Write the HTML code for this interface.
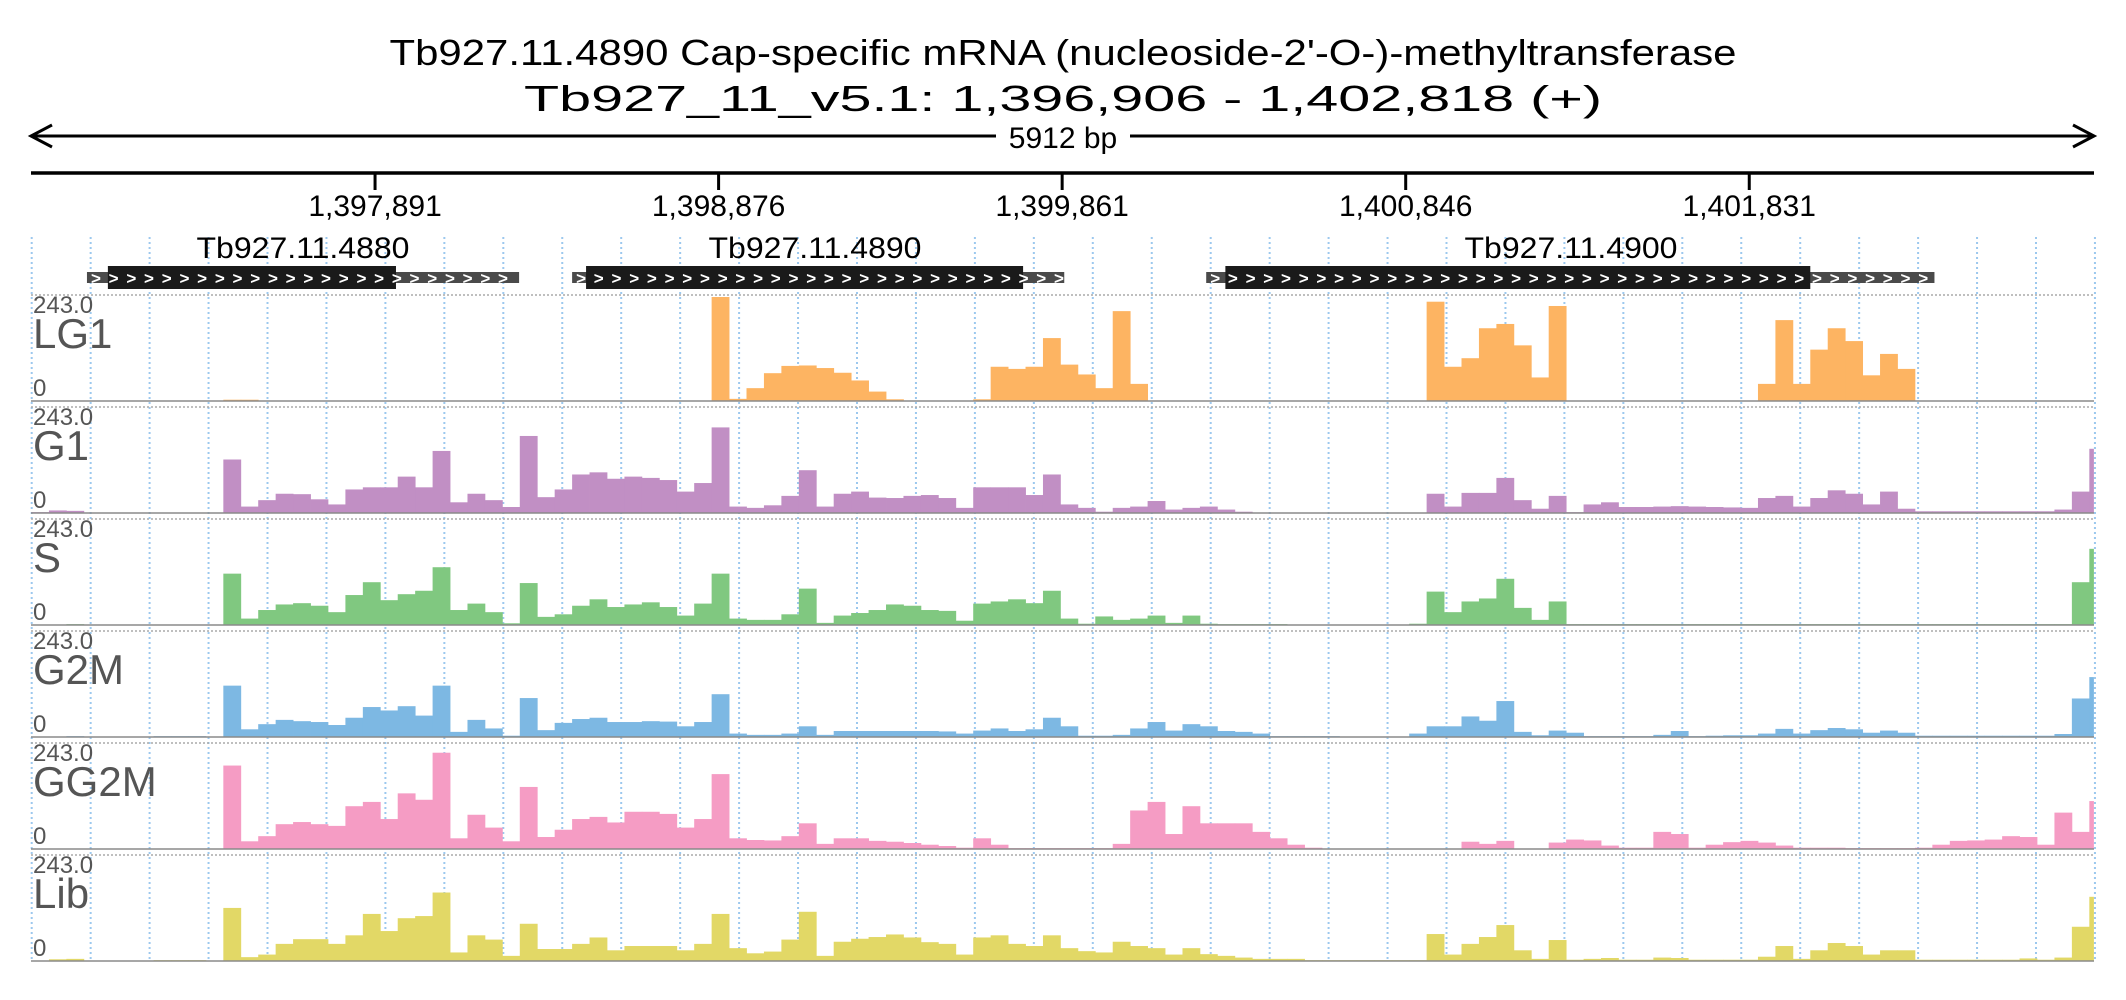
<!DOCTYPE html>
<html><head><meta charset="utf-8"><title>Tb927.11.4890 coverage</title>
<style>html,body{margin:0;padding:0;background:#fff}svg{display:block}text{font-family:"Liberation Sans",sans-serif}</style>
</head><body>
<svg id="chart" width="2126" height="1000" viewBox="0 0 2126 1000" xmlns="http://www.w3.org/2000/svg">
<rect x="0" y="0" width="2126" height="1000" fill="#fff"/>
<text x="1063" y="65" font-size="36" text-anchor="middle" textLength="1347" lengthAdjust="spacingAndGlyphs" fill="#000">Tb927.11.4890  Cap-specific mRNA (nucleoside-2'-O-)-methyltransferase</text>
<text x="1063" y="111" font-size="36" text-anchor="middle" textLength="1078" lengthAdjust="spacingAndGlyphs" fill="#000">Tb927_11_v5.1: 1,396,906 - 1,402,818 (+)</text>
<g stroke="#000" stroke-width="3" fill="none">
<line x1="31" y1="136" x2="2094" y2="136"/>
<polyline points="52,125 31,136 52,147"/>
<polyline points="2073,125 2094,136 2073,147"/>
</g>
<rect x="996" y="120" width="134" height="32" fill="#fff"/>
<text x="1063" y="148" font-size="30" text-anchor="middle" fill="#000">5912 bp</text>
<line x1="31" y1="173" x2="2094" y2="173" stroke="#000" stroke-width="3.5"/>
<g id="ticks"></g>
<g id="grid"></g>
<g id="genes"></g>
<g id="tracks"></g>
</svg>
<script>
const START = 1396906, END = 1402818, BIN_BP = 50, YMAX = 243;
const tickValues = [1397891, 1398876, 1399861, 1400846, 1401831];
const tickLabels = ["1,397,891", "1,398,876", "1,399,861", "1,400,846", "1,401,831"];
const trackNames = ["LG1", "G1", "S", "G2M", "GG2M", "Lib"];
const trackColors = ["#fdb462", "#c18fc4", "#80c880", "#7db8e3", "#f59cc4", "#e2d866"];
const geneNames = ["Tb927.11.4880", "Tb927.11.4890", "Tb927.11.4900"];
const geneStart = [1397065, 1398456, 1400274];
const geneEnd = [1398304, 1399867, 1402362];
const cdsStart = [1397125, 1398496, 1400329];
const cdsEnd = [1397951, 1399749, 1402006];
const lg1 = [0,0,0,0,0,0,0,0,0,0, 1,3,3,1,0,0,0,0,0,0, 0,0,0,0,0,0,0,0,0,0, 0,0,0,0,0,0,0,0,0,243,
 5,30,65,82,83,77,66,48,22,4, 0,0,0,0,4,80,75,80,147,85, 62,30,210,40,1,0,0,1,0,0, 0,0,0,0,0,0,0,0,0,0,
 232,80,100,170,180,130,55,222,0,0, 0,0,0,0,0,0,0,0,0,40, 189,40,120,170,140,60,110,75,0,0, 0,0,0,0,0,0,0,0,0];
const g1 = [2,6,5,0,0,0,0,0,0,0, 0,125,15,30,45,44,32,20,55,60, 60,85,60,145,25,45,30,14,180,37, 55,90,95,80,85,82,77,50,70,200,
 15,12,18,40,100,15,45,50,36,35, 40,42,35,12,60,60,60,42,90,20, 12,3,12,15,28,8,12,15,8,3, 1,1,1,1,1,1,1,1,1,1,
 45,15,47,47,82,30,10,40,2,20, 25,14,14,15,16,15,14,13,12,35, 40,15,35,53,45,20,50,10,4,4, 4,4,4,4,4,4,8,50,150];
const s = [0,1,2,0,0,0,1,1,1,1, 0,120,15,35,48,51,45,30,70,100, 58,72,80,135,35,50,30,4,98,19, 25,45,60,42,48,53,42,22,50,120,
 15,12,12,25,85,5,22,28,35,48, 45,35,33,10,50,55,60,51,80,15, 3,20,12,15,22,5,22,3,2,2, 2,2,1,1,1,1,1,1,1,3,
 78,30,55,62,108,40,12,55,2,2, 2,2,2,2,2,2,2,2,2,2, 2,2,2,2,2,2,2,2,2,2, 2,2,2,2,2,2,2,100,178];
const g2m = [0,1,2,0,0,0,1,2,2,2, 0,120,18,30,40,37,35,28,45,70, 62,72,50,120,12,40,20,3,91,16, 33,42,45,35,35,37,36,25,35,100,
 8,5,5,8,25,5,14,14,14,14, 14,14,13,8,15,20,14,18,45,25, 3,3,5,20,35,15,30,25,14,12, 8,2,2,2,2,1,1,1,1,8,
 25,25,48,38,84,12,4,15,10,2, 2,2,2,5,14,2,3,4,4,8, 19,8,16,21,18,10,15,10,3,3, 3,3,3,3,3,3,7,90,140];
const gg2m = [0,0,0,0,0,0,0,0,0,0, 0,195,18,30,58,63,58,54,100,110, 70,130,115,225,25,80,50,18,145,28, 45,70,75,62,87,87,82,50,70,175,
 25,21,20,30,60,12,25,25,19,17, 14,10,7,3,25,10,2,2,2,2, 2,2,12,90,110,35,100,60,60,60, 40,25,10,3,1,1,1,1,1,1,
 1,1,17,12,19,1,1,15,22,20, 8,3,3,40,35,3,10,16,19,15, 8,3,3,3,2,2,2,2,3,10, 19,20,22,30,28,10,85,40,112];
const lib = [0,4,5,0,0,0,1,2,2,2, 0,124,9,15,40,51,51,40,60,110, 70,100,105,160,20,60,50,12,87,28, 28,40,55,25,35,35,35,25,40,110,
 30,18,22,50,115,12,45,52,56,62, 55,44,40,15,55,60,40,35,60,30, 23,20,45,35,30,15,30,16,12,8, 5,5,5,2,2,2,2,2,2,2,
 63,15,40,56,84,25,5,49,3,5, 7,3,3,8,7,3,3,3,3,10, 35,5,25,42,35,15,25,25,3,3, 3,3,3,3,6,3,8,80,150];
const series = [lg1, g1, s, g2m, gg2m, lib];

const NS = "http://www.w3.org/2000/svg";
const X0 = 31.5, X1 = 2093.5;
function x(bp){ return X0 + (bp - START) / (END - START) * (X1 - X0); }
const TRACK_TOP0 = 295, TRACK_PITCH = 112, TRACK_H = 106, PLOT_H = 104;
function yv(track, v){ const base = TRACK_TOP0 + TRACK_PITCH*track + TRACK_H; return base - v / YMAX * PLOT_H; }
function mk(tag, attrs, parent){ const e = document.createElementNS(NS, tag); for (const k in attrs) e.setAttribute(k, attrs[k]); parent.appendChild(e); return e; }

// ticks
const tg = document.getElementById('ticks');
tickValues.forEach((t, i) => {
  const l = mk('line', {x1:x(t), x2:x(t), y1:172, y2:190, stroke:'#000', 'stroke-width':3}, tg);
  
  
  const tx = mk('text', {x:x(t), y:216, 'font-size':30, 'text-anchor':'middle', fill:'#000'}, tg);
  
  
  tx.textContent = tickLabels[i];
});

// grid
const gg = document.getElementById('grid');
for (let i = 0; i <= 35; i++) {
  const gx = 31.7 + i * 58.95;
  const l = mk('line', {x1:gx, x2:gx, y1:237, y2:962, stroke:'#9cc8ee', 'stroke-width':2, 'stroke-dasharray':'2 3'}, gg);
  
  
}

// genes
const ge = document.getElementById('genes');
geneNames.forEach((n, i) => {
  const g = mk('g', {}, ge);
  
  
  const a = x(geneStart[i]), b = x(geneEnd[i]), c = x(cdsStart[i]), d = x(cdsEnd[i]);
  const utr = mk('rect', {x:a, y:272, width:b-a, height:11, fill:'#4a4a4a'}, g);
  
  
  const cds = mk('rect', {x:c, y:266, width:d-c, height:23, fill:'#1a1a1a'}, g);
  
  
  for (let cx = a + 4; cx < b - 8; cx += 17.7) {
    const ch = mk('text', {x:cx, y:284, 'font-size':17, 'font-weight':'bold', fill:'#fff'}, g);
    
    
    ch.textContent = '>';
  }
  const lab = mk('text', {x:(c+d)/2 + (i===0? -(c+d)/2+303 : i===1 ? -(c+d)/2+815 : -(c+d)/2+1571), y:258, 'font-size':30, 'text-anchor':'middle', textLength:213, lengthAdjust:'spacingAndGlyphs', fill:'#000'}, g);
  
  
  lab.textContent = n;
});

// tracks
const tr = document.getElementById('tracks');
const nb = Math.ceil((END - START) / BIN_BP);
series.forEach((vals, t) => {
  const g = mk('g', {}, tr);
  
  
  const top = TRACK_TOP0 + TRACK_PITCH*t, base = top + TRACK_H;
  const tl = mk('line', {x1:31, x2:2094, y1:top, y2:top, stroke:'#aaa', 'stroke-width':1.5, 'stroke-dasharray':'2 2'}, g);
  
  
  for (let i = 0; i < nb && i < vals.length; i++) {
    const b0 = START + i*BIN_BP, b1 = Math.min(END, b0 + BIN_BP);
    const v = vals[i];
    if (v <= 0) continue;
    const r = mk('rect', {x:x(b0), y:yv(t, v), width:x(b1)-x(b0)+0.4, height:base - yv(t, v), fill:trackColors[t]}, g);
    
    
  }
  const bl = mk('line', {x1:31, x2:2094, y1:base, y2:base, stroke:'#8a8a8a', 'stroke-width':1.5}, g);
  
  
  const mx = mk('text', {x:33, y:top+18, 'font-size':24, fill:'#555'}, g);
  
  
  mx.textContent = '243.0';
  const nm = mk('text', {x:33, y:top+53, 'font-size':42, fill:'#555'}, g);
  
  
  nm.textContent = trackNames[t];
  const z = mk('text', {x:33, y:top+101, 'font-size':24, fill:'#555'}, g);
  
  
  z.textContent = '0';
});
</script>
</body></html>
